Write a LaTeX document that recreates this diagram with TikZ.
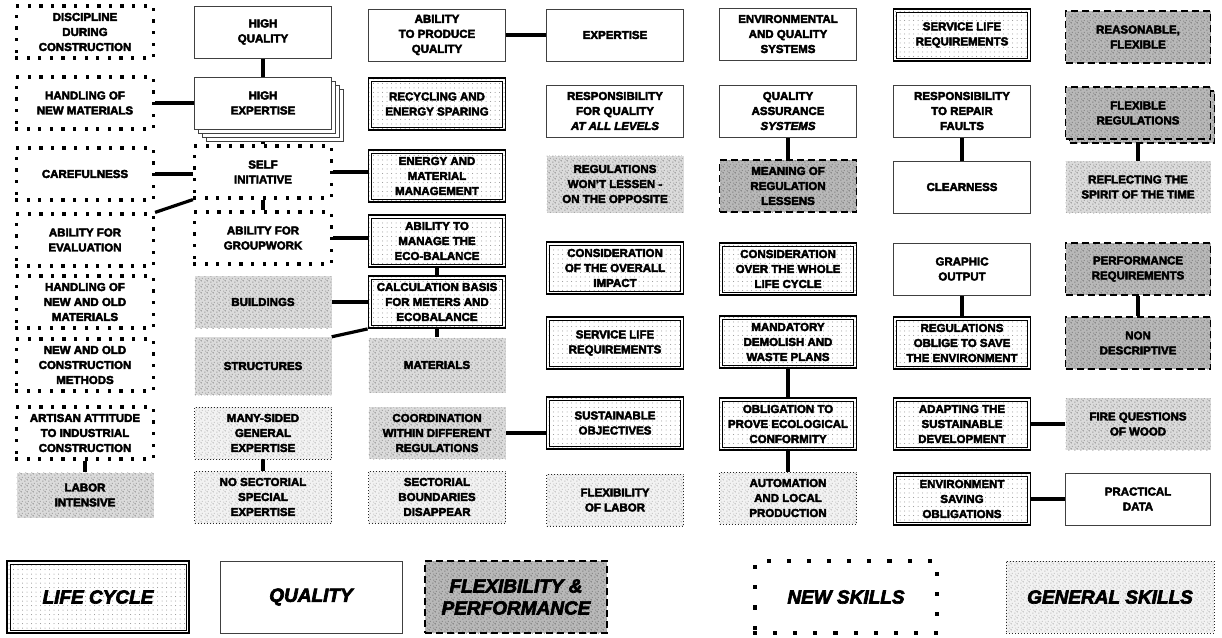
\documentclass[tikz,border=0pt]{standalone}
\usepackage{fontspec}
\setmainfont{Liberation Sans}[BoldFeatures={FakeBold=3.5},BoldItalicFeatures={FakeBold=3.5}]
\usetikzlibrary{patterns.meta,calc}

% light dot raster used inside the double-framed boxes
\tikzdeclarepattern{
  name=finedots, type=uncolored,
  bounding box={(-1pt,-1pt) and (1pt,1pt)},
  tile size={(4.5pt,4.5pt)},
  code={\fill (0pt,0pt) circle (0.5pt);}
}
% irregular grain for the shaded boxes
\tikzdeclarepattern{
  name=grain, type=uncolored,
  bounding box={(0pt,0pt) and (6pt,6pt)},
  tile size={(6pt,6pt)},
  code={
    \fill (0.5pt,0.5pt) rectangle (1.5pt,1.5pt);
    \fill (3.5pt,2pt) rectangle (4.5pt,3pt);
    \fill (1.5pt,4pt) rectangle (2.5pt,5pt);
    \fill (4.5pt,4.8pt) rectangle (5.5pt,5.8pt);
    \fill (2.5pt,2.5pt) rectangle (3pt,3pt);
  }
}

\pgfdeclarelayer{bg}
\pgfsetlayers{bg,main}

\tikzset{
  box/.style={minimum width=137pt, minimum height=52pt, inner sep=0pt,
    align=center, text=black, font=\bfseries\fontsize{11.5}{15}\selectfont},
  quality/.style={box, draw=black!75, line width=0.6pt, fill=white},
  lifecycle/.style={box, draw=black, line width=1.8pt,
    preaction={fill=white}, pattern=finedots, pattern color=black!45,
    path picture={\draw[line width=0.6pt]
      ([shift={(3pt,-3pt)}]path picture bounding box.north west) rectangle
      ([shift={(-3pt,3pt)}]path picture bounding box.south east);}},
  flex/.style={box, draw=black, line width=1.5pt, dash pattern=on 7pt off 4pt,
    preaction={fill=black!28}, pattern=grain, pattern color=black!55},
  newskills/.style={box, draw=black, line width=3.2pt,
    dash pattern=on 0.1pt off 11.5pt, line cap=rect, fill=white},
  general/.style={box, draw=black!85, line width=0.9pt, dash pattern=on 1pt off 2pt,
    preaction={fill=black!5}, pattern=grain, pattern color=black!28},
  speckle/.style={box, preaction={fill=black!14}, pattern=grain, pattern color=black!45},
  legend/.style={minimum width=182pt, minimum height=72pt,
    font=\bfseries\itshape\fontsize{19}{22}\selectfont},
  link/.style={line width=3.2pt},
}

\begin{document}
\begin{tikzpicture}[x=1pt,y=-1pt]
\begin{pgfonlayer}{bg}
\fill[white] (0,0) rectangle (1222,637);
\end{pgfonlayer}
\useasboundingbox (0,0) rectangle (1222,637);

% ---------- column 1 ----------
\node[newskills] (dis) at (85,32)  {DISCIPLINE\\DURING\\CONSTRUCTION};
\node[newskills] (hnm) at (85,103) {HANDLING OF\\NEW MATERIALS};
\node[newskills] (car) at (85,174) {CAREFULNESS};
\node[newskills] (ev)  at (85,240) {ABILITY FOR\\EVALUATION};
\node[newskills] (hno) at (85,302) {HANDLING OF\\NEW AND OLD\\MATERIALS};
\node[newskills] (nco) at (85,365) {NEW AND OLD\\CONSTRUCTION\\METHODS};
\node[newskills] (art) at (85,433) {ARTISAN ATTITUDE\\TO INDUSTRIAL\\CONSTRUCTION};
\node[speckle, minimum height=45pt] (lab) at (85,495) {LABOR\\INTENSIVE};

% ---------- column 2 ----------
\node[quality] (hq) at (263,32) {HIGH\\QUALITY};
\node[quality] (he3) at (275,115) {};
\node[quality] (he2) at (271,111) {};
\node[quality] (he1) at (267,107) {};
\node[quality] (he) at (263,103) {HIGH\\EXPERTISE};
\node[newskills] (si) at (263,172) {SELF\\INITIATIVE};
\node[newskills] (gw) at (263,238) {ABILITY FOR\\GROUPWORK};
\node[speckle] (bu) at (263,302) {BUILDINGS};
\node[speckle, minimum height=58pt] (st) at (263,366) {STRUCTURES};
\node[general] (msg) at (263,433) {MANY-SIDED\\GENERAL\\EXPERTISE};
\node[general] (nss) at (263,497) {NO SECTORIAL\\SPECIAL\\EXPERTISE};

% ---------- column 3 ----------
\node[quality] (apq) at (437,35) {ABILITY\\TO PRODUCE\\QUALITY};
\node[lifecycle] (rec) at (437,104) {RECYCLING AND\\ENERGY SPARING};
\node[lifecycle] (em)  at (437,176) {ENERGY AND\\MATERIAL\\MANAGEMENT};
\node[lifecycle] (mb)  at (437,241) {ABILITY TO\\MANAGE THE\\ECO-BALANCE};
\node[lifecycle] (cb)  at (437,302) {CALCULATION BASIS\\FOR METERS AND\\ECOBALANCE};
\node[speckle, minimum height=55pt] (ma) at (437,365) {MATERIALS};
\node[speckle] (co)  at (437,433) {COORDINATION\\WITHIN DIFFERENT\\REGULATIONS};
\node[general] (sb)  at (437,497) {SECTORIAL\\BOUNDARIES\\DISAPPEAR};

% ---------- column 4 ----------
\node[quality] (ex) at (615,35) {EXPERTISE};
\node[quality] (rq) at (615,111) {RESPONSIBILITY\\FOR QUALITY\\\textit{AT ALL LEVELS}};
\node[speckle, minimum height=57pt] (rw) at (615,184) {REGULATIONS\\WON'T LESSEN -\\ON THE OPPOSITE};
\node[lifecycle] (oi) at (615,268) {CONSIDERATION\\OF THE OVERALL\\IMPACT};
\node[lifecycle] (sl) at (615,343) {SERVICE LIFE\\REQUIREMENTS};
\node[lifecycle] (so) at (615,423) {SUSTAINABLE\\OBJECTIVES};
\node[general] (fl) at (615,500) {FLEXIBILITY\\OF LABOR};

% ---------- column 5 ----------
\node[quality] (eqs) at (788,34) {ENVIRONMENTAL\\AND QUALITY\\SYSTEMS};
\node[quality] (qa) at (788,111) {QUALITY\\ASSURANCE\\\textit{SYSTEMS}};
\node[flex] (mr) at (788,186) {MEANING OF\\REGULATION\\LESSENS};
\node[lifecycle] (lc) at (788,269) {CONSIDERATION\\OVER THE WHOLE\\LIFE CYCLE};
\node[lifecycle] (md) at (788,342) {MANDATORY\\DEMOLISH AND\\WASTE PLANS};
\node[lifecycle] (op) at (788,424) {OBLIGATION TO\\PROVE ECOLOGICAL\\CONFORMITY};
\node[general] (au) at (788,498) {AUTOMATION\\AND LOCAL\\PRODUCTION};

% ---------- column 6 ----------
\node[lifecycle] (sl2) at (962,35) {SERVICE LIFE\\REQUIREMENTS};
\node[quality] (rr) at (962,111) {RESPONSIBILITY\\TO REPAIR\\FAULTS};
\node[quality] (cl) at (962,187) {CLEARNESS};
\node[quality] (go) at (962,269) {GRAPHIC\\OUTPUT};
\node[lifecycle] (ro) at (962,343) {REGULATIONS\\OBLIGE TO SAVE\\THE ENVIRONMENT};
\node[lifecycle] (ad) at (962,424) {ADAPTING THE\\SUSTAINABLE\\DEVELOPMENT};
\node[lifecycle] (es) at (962,499) {ENVIRONMENT\\SAVING\\OBLIGATIONS};

% ---------- column 7 ----------
\node[flex, minimum width=145pt] (rf) at (1138,37) {REASONABLE,\\FLEXIBLE};
\node[flex, minimum width=145pt] (fr2) at (1142,117) {};
\node[flex, minimum width=145pt] (fr) at (1138,113) {FLEXIBLE\\REGULATIONS};
\node[speckle, minimum width=145pt] (sp) at (1138,187) {REFLECTING THE\\SPIRIT OF THE TIME};
\node[flex, minimum width=145pt] (pr) at (1138,269) {PERFORMANCE\\REQUIREMENTS};
\node[flex, minimum width=145pt] (nd) at (1138,343) {NON\\DESCRIPTIVE};
\node[speckle, minimum width=145pt] (fw) at (1138,424) {FIRE QUESTIONS\\OF WOOD};
\node[quality, minimum width=145pt] (pd) at (1138,499) {PRACTICAL\\DATA};

% ---------- connectors (behind the boxes) ----------
\begin{pgfonlayer}{bg}
\draw[link] (hq) -- (he);
\draw[link] (hnm) -- (hnm -| he.west);
\draw[link] (he) -- (si);
\draw[link] (car) -- (car -| si.west);
\draw[link] (ev.north east) -- (si.south west);
\draw[link] (si) -- (gw);
\draw[link] (si) -- (si -| em.west);
\draw[link] (gw) -- (gw -| mb.west);
\draw[link] (mb) -- (cb);
\draw[link] (bu) -- (bu -| cb.west);
\draw[link] (st.north east) -- (cb.south west);
\draw[link] (cb) -- (ma);
\draw[link] (apq) -- (ex);
\draw[link] (co) -- (co -| so.west);
\draw[link] (art) -- (lab);
\draw[link] (msg) -- (nss);
\draw[link] (qa) -- (mr);
\draw[link] (rr) -- (cl);
\draw[link] (fr) -- (sp);
\draw[link] (go) -- (ro);
\draw[link] (pr) -- (nd);
\draw[link] (md) -- (op);
\draw[link] (op) -- (au);
\draw[link] (ad) -- (ad -| fw.west);
\draw[link] (es) -- (es -| pd.west);
\end{pgfonlayer}

% ---------- key ----------
\node[lifecycle, legend] (klc) at (98,597) {LIFE CYCLE};
\node[quality, legend] (kq) at (311,597) {QUALITY};
\node[flex, legend] (kf) at (516,597) {FLEXIBILITY \&\\PERFORMANCE};
\node[newskills, legend, line width=4pt, dash pattern=on 0.1pt off 20pt] (kn) at (846,597) {NEW SKILLS};
\node[general, legend, minimum width=208pt] (kg) at (1110,597) {GENERAL SKILLS};
\end{tikzpicture}
\end{document}
